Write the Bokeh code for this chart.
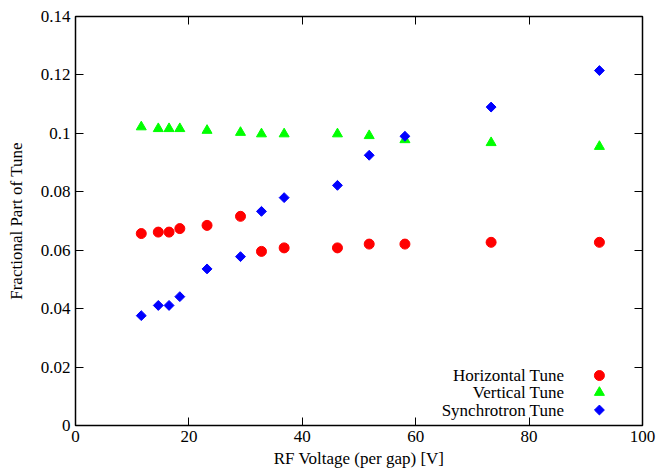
import math
from bokeh.plotting import figure
from bokeh.models import (LinearAxis, FixedTicker, CustomJSTickFormatter, Range1d)
from bokeh.core.properties import value
from bokeh.embed import file_html
from bokeh.resources import INLINE

# ---- data ----
voltage = [11.6, 14.6, 16.5, 18.4, 23.2, 29.1, 32.8, 36.8, 46.2, 51.8, 58.1, 73.3, 92.4]
horizontal = [0.0657, 0.0662, 0.0662, 0.0674, 0.0685, 0.0716, 0.0596, 0.0608, 0.0608, 0.0621, 0.0621, 0.0627, 0.0627]
vertical = [0.1022, 0.1016, 0.1016, 0.1016, 0.1010, 0.1003, 0.0998, 0.0998, 0.0998, 0.0992, 0.0978, 0.0968, 0.0955]
synchrotron = [0.0376, 0.0411, 0.0411, 0.0441, 0.0536, 0.0578, 0.0733, 0.0780, 0.0822, 0.0925, 0.0990, 0.1090, 0.1215]

series_names = ["Horizontal Tune", "Vertical Tune", "Synchrotron Tune"]
x_ticks = [0, 20, 40, 60, 80, 100]
y_ticks = [0, 0.02, 0.04, 0.06, 0.08, 0.10, 0.12, 0.14]

# legend layout (data coordinates of the key column / text column / rows)
legend_key_x = 92.4
legend_text_x = 86.2
legend_rows_y = [0.0171, 0.0113, 0.0053]

FONT = "Liberation Serif"
FS = "17px"

p = figure(width=657, height=474, output_backend="svg", toolbar_location=None,
           x_range=Range1d(0, 100), y_range=Range1d(0, 0.14),
           min_border_left=75, min_border_right=15, min_border_top=16, min_border_bottom=49)
p.grid.visible = False
p.outline_line_color = "black"
p.outline_line_width = 1.5
p.background_fill_color = "white"
p.border_fill_color = "white"

yfmt = CustomJSTickFormatter(code="return tick.toFixed(2).replace(/\\.?0+$/, '');")
blank = CustomJSTickFormatter(code="return '';")

def style_axis(ax):
    ax.axis_line_color = None
    ax.major_tick_in = 8
    ax.major_tick_out = 0
    ax.major_tick_line_color = "black"
    ax.major_tick_line_width = 1
    ax.minor_tick_line_color = None
    ax.major_label_text_font = FONT
    ax.major_label_text_font_size = FS
    ax.major_label_text_color = "black"
    ax.axis_label_text_font = FONT
    ax.axis_label_text_font_size = FS
    ax.axis_label_text_font_style = "normal"
    ax.axis_label_text_color = "black"

xa = p.xaxis[0]
xa.ticker = FixedTicker(ticks=x_ticks)
xa.axis_label = "RF Voltage (per gap) [V]"
style_axis(xa)
xa.major_label_standoff = 5
xa.axis_label_standoff = 4

ya = p.yaxis[0]
ya.ticker = FixedTicker(ticks=y_ticks)
ya.formatter = yfmt
ya.axis_label = "Fractional Part of Tune"
style_axis(ya)
ya.major_label_standoff = 5
ya.axis_label_standoff = 12

top = LinearAxis(ticker=FixedTicker(ticks=x_ticks), formatter=blank)
style_axis(top)
top.major_label_standoff = 0
p.add_layout(top, "above")

right = LinearAxis(ticker=FixedTicker(ticks=y_ticks), formatter=blank)
style_axis(right)
right.major_label_standoff = 0
p.add_layout(right, "right")

red, green, blue = "#ff0000", "#00ff00", "#0000ff"

p.scatter(voltage, horizontal, marker="circle", size=10, fill_color=red, line_color=red)
p.scatter(voltage, vertical, marker="triangle", size=10, fill_color=green, line_color=green)
p.scatter(voltage, synchrotron, marker="square", size=7, angle=math.pi / 4,
          fill_color=blue, line_color=blue)

# legend (gnuplot style: right-aligned text, key to the right)
p.scatter([legend_key_x], [legend_rows_y[0]], marker="circle", size=10, fill_color=red, line_color=red)
p.scatter([legend_key_x], [legend_rows_y[1]], marker="triangle", size=10, fill_color=green, line_color=green)
p.scatter([legend_key_x], [legend_rows_y[2]], marker="square", size=7, angle=math.pi / 4,
          fill_color=blue, line_color=blue)
p.text(x=[legend_text_x] * 3, y=legend_rows_y, text=series_names,
       text_align="right", text_baseline="middle", text_font=value(FONT),
       text_font_size=FS, text_color="black")

open("out.html", "w").write(file_html(p, INLINE))
